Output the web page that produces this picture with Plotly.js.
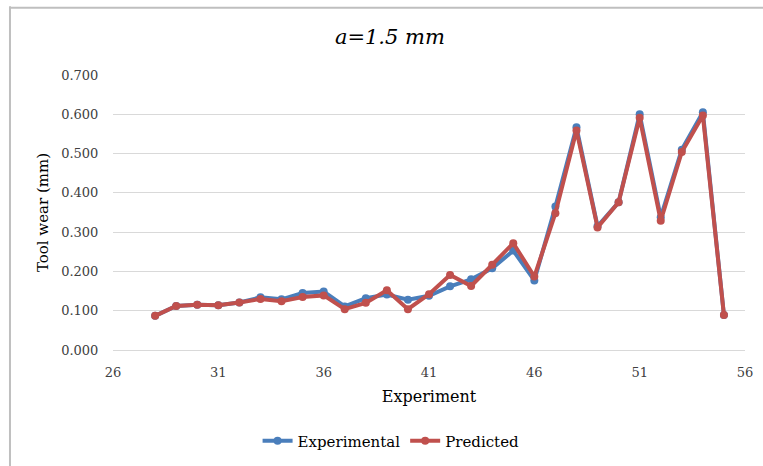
<!DOCTYPE html>
<html>
<head>
<meta charset="utf-8">
<script src="https://cdn.plot.ly/plotly-3.0.1.min.js"></script>
<style>
html,body{margin:0;padding:0;background:#fff;}
#chart{width:763px;height:466px;}
</style>
</head>
<body>
<div id="chart"></div>
<script>
const experiments = [28,29,30,31,32,33,34,35,36,37,38,39,40,41,42,43,44,45,46,47,48,49,50,51,52,53,54,55];
const experimental = [0.087,0.112,0.115,0.114,0.121,0.134,0.129,0.145,0.149,0.111,0.132,0.141,0.128,0.138,0.162,0.180,0.208,0.253,0.177,0.365,0.567,0.315,0.376,0.600,0.338,0.510,0.605,0.089];
const predicted = [0.087,0.112,0.115,0.114,0.121,0.130,0.124,0.135,0.139,0.104,0.120,0.152,0.104,0.142,0.191,0.163,0.217,0.272,0.187,0.348,0.559,0.312,0.376,0.591,0.329,0.504,0.597,0.089];
const seriesNames = ["Experimental","Predicted"];
const xTicks = [26,31,36,41,46,51,56];
const yTicks = [0,0.1,0.2,0.3,0.4,0.5,0.6,0.7];
const yTickText = ["0.000","0.100","0.200","0.300","0.400","0.500","0.600","0.700"];

const serif = "DejaVu Serif, Liberation Serif, serif";
const traces = [
  {x: experiments, y: experimental, name: seriesNames[0], type: "scatter", mode: "lines+markers",
   line: {color: "#4a7ebb", width: 4}, marker: {color: "#4a7ebb", size: 8}},
  {x: experiments, y: predicted, name: seriesNames[1], type: "scatter", mode: "lines+markers",
   line: {color: "#c0504d", width: 4}, marker: {color: "#c0504d", size: 8}}
];
const layout = {
  width: 763, height: 466,
  paper_bgcolor: "#fff", plot_bgcolor: "#fff",
  margin: {l: 113, r: 18, t: 74.5, b: 115.5},
  font: {family: serif, color: "#404040", size: 13},
  title: {text: "<i>a=1.5 mm</i>", x: 0.511, xanchor: "center", y: 0.922, yanchor: "middle",
          font: {family: serif, size: 21, color: "#000"}},
  xaxis: {range: [26, 56], tickmode: "array", tickvals: xTicks, ticktext: xTicks.map(String),
          showgrid: false, zeroline: false, showline: false, ticks: "outside", ticklen: 10,
          tickcolor: "rgba(0,0,0,0)", automargin: false,
          tickfont: {family: serif, size: 13, color: "#404040"},
          title: {text: "Experiment", font: {family: serif, size: 16, color: "#000"}, standoff: 12}},
  yaxis: {range: [0, 0.7], tickmode: "array", tickvals: yTicks, ticktext: yTickText,
          showgrid: true, gridcolor: "#d9d9d9", gridwidth: 1, zeroline: true, zerolinecolor: "#d9d9d9",
          zerolinewidth: 1, showline: false, ticks: "outside", ticklen: 11, tickcolor: "rgba(0,0,0,0)",
          automargin: false,
          tickfont: {family: serif, size: 13, color: "#404040"},
          title: {text: "Tool wear (mm)", font: {family: serif, size: 15, color: "#000"}, standoff: 8}},
  legend: {orientation: "h", x: 0.44, xanchor: "center", xref: "paper",
           y: 0.0536, yanchor: "middle", yref: "container",
           font: {family: serif, size: 15, color: "#000"}, itemwidth: 30},
  showlegend: true,
  shapes: [
    {type: "line", xref: "paper", yref: "paper", x0: -0.163, x1: -0.163, y0: 1.25, y1: -0.45,
     line: {color: "#bfbfbf", width: 2}},
    {type: "line", xref: "paper", yref: "paper", x0: -0.163, x1: 1.05, y0: 1.245, y1: 1.245,
     line: {color: "#bfbfbf", width: 2}}
  ]
};
Plotly.newPlot("chart", traces, layout, {displayModeBar: false, staticPlot: true});
</script>
</body>
</html>
